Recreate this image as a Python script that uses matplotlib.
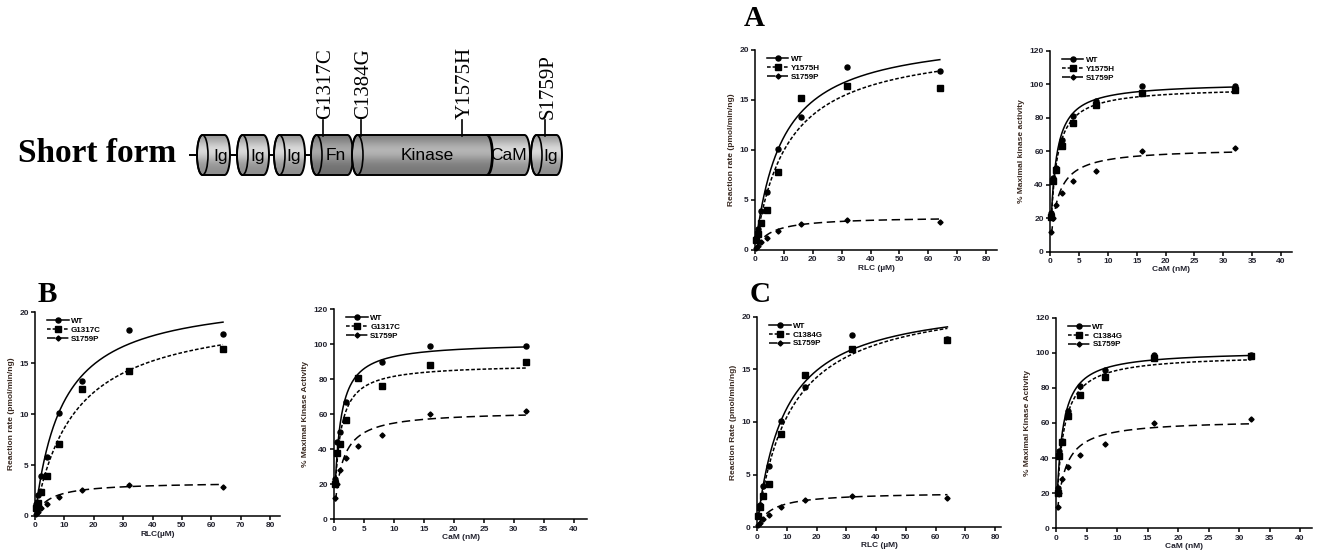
import numpy as np
import matplotlib.pyplot as plt
from matplotlib.lines import Line2D
from matplotlib.patches import Polygon, Ellipse

W, H = 1321, 559

# substrate concentrations
rlc = [0.5, 1, 2, 4, 8, 16, 32, 64]      # RLC (uM)
cam = [0.25, 0.5, 1, 2, 4, 8, 16, 32]    # CaM (nM)

# reaction rate (pmol/min/ng) vs RLC
wt_rlc = [1.2, 2.1, 3.9, 5.8, 10.1, 13.3, 18.3, 17.9]
y1575h_rlc = [1.0, 1.6, 2.7, 4.0, 7.8, 15.2, 16.4, 16.2]
g1317c_rlc = [0.8, 1.3, 2.4, 3.9, 7.1, 12.5, 14.2, 16.4]
c1384g_rlc = [1.1, 1.9, 3.0, 4.1, 8.9, 14.5, 16.9, 17.8]
s1759p_rlc = [0.2, 0.4, 0.8, 1.2, 1.9, 2.6, 3.0, 2.8]

# % maximal kinase activity vs CaM
wt_cam = [23, 44, 50, 67, 81, 90, 99, 99]
y1575h_cam = [21, 42, 49, 63, 77, 88, 95, 96.5]
g1317c_cam = [20, 38, 43, 57, 81, 76, 88, 90]
c1384g_cam = [20, 41, 49, 64, 76, 86, 97, 98]
s1759p_cam = [12, 20, 28, 35, 42, 48, 60, 62]

# hyperbolic fits: (Vmax, Km)
wt_rlc_fit = (21.8, 9.3)
y1575h_rlc_fit = (21.0, 11.1)
g1317c_rlc_fit = (20.4, 13.6)
c1384g_rlc_fit = (22.2, 11.2)
s1759p_rlc_fit = (3.34, 5.0)
wt_cam_fit = (101.2, 0.88)
y1575h_cam_fit = (98.4, 0.95)
g1317c_cam_fit = (88.8, 0.87)
c1384g_cam_fit = (99.0, 1.0)
s1759p_cam_fit = (61.9, 1.26)

# domain diagram
domains = ['Ig', 'Ig', 'Ig', 'Fn', 'CaM', 'Kinase', 'Ig']
mutations = ['G1317C', 'C1384G', 'Y1575H', 'S1759P']

SANS = 'Liberation Sans'
SERIF = 'Liberation Serif'
INK = '#22222e'

fig = plt.figure(figsize=(W / 100, H / 100), dpi=100)

# background axes in pixel units for the diagram and panel letters
bg = fig.add_axes([0, 0, 1, 1])
bg.set_xlim(0, W)
bg.set_ylim(H, 0)
bg.axis('off')


def cylinder(x0, x1, color, z, cap=5.5, top=135, bot=175):
    yc = (top + bot) / 2
    ry = (bot - top) / 2
    t = np.linspace(-np.pi / 2, np.pi / 2, 60)
    right = np.column_stack([x1 - cap + cap * np.cos(t), yc + ry * np.sin(t)])
    left = np.column_stack([x0 + cap - cap * np.cos(t[::-1]), yc + ry * np.sin(t[::-1])])
    pts = np.vstack([right, left])
    bg.add_patch(Polygon(pts, closed=True, facecolor='none', edgecolor='black',
                         lw=1.4, zorder=z + 1))
    # shaded body
    base = np.array(color)
    prof = np.linspace(0, 1, 50)
    shade = 0.78 + 0.4 * np.exp(-((prof - 0.38) / 0.28) ** 2)
    img = np.clip(base[None, :] * shade[:, None], 0, 1)[:, None, :]
    im = bg.imshow(img, extent=(x0, x1, bot, top), aspect='auto', zorder=z,
                   interpolation='bilinear')
    im.set_clip_path(Polygon(pts, closed=True, transform=bg.transData))
    # front face of the left end
    bg.add_patch(Ellipse((x0 + cap, yc), 2 * cap, bot - top, facecolor='none',
                         edgecolor='black', lw=1.2, zorder=z + 1))


bg.text(18, 153, 'Short form', family=SERIF, fontweight='bold', fontsize=24,
        ha='left', va='center')
bg.plot([190, 532], [155, 155], color='black', lw=1.4, zorder=1)

dom_x = [(197, 230), (237, 269), (274, 305), (311, 353), (482, 530), (352, 492), (531, 562)]
dom_col = [(0.72, 0.72, 0.72), (0.72, 0.72, 0.72), (0.72, 0.72, 0.72), (0.56, 0.56, 0.56),
           (0.72, 0.72, 0.72), (0.6, 0.6, 0.6), (0.72, 0.72, 0.72)]
dom_lab_x = [221, 258, 294, 336, 508, 427, 551]
for i, name in enumerate(domains):
    x0, x1 = dom_x[i]
    cylinder(x0, x1, dom_col[i], z=2 + 3 * i)
    bg.text(dom_lab_x[i], 156, name, ha='center', va='center', family=SANS,
            fontsize=12.5, zorder=40)

mut_x = [323, 361, 462, 545]
for name, x in zip(mutations, mut_x):
    bg.plot([x, x], [120, 136], color='black', lw=1.2, zorder=30)
    bg.text(x + 3, 119, name, rotation=90, ha='center', va='bottom', family=SERIF,
            fontsize=15, zorder=30)

for letter, x, y in [('A', 754, 18), ('B', 47, 294), ('C', 760, 295)]:
    bg.text(x, y, letter, family=SERIF, fontweight='bold', fontsize=21,
            ha='center', va='center')


def px_axes(x0, x1, ytop, ybot):
    return fig.add_axes([x0 / W, 1 - ybot / H, (x1 - x0) / W, (ybot - ytop) / H])


def style(ax, xmax, ymax, xticks, yticks):
    ax.set_xlim(0, xmax)
    ax.set_ylim(0, ymax)
    ax.set_xticks(xticks)
    ax.set_yticks(yticks)
    for s in ('top', 'right'):
        ax.spines[s].set_visible(False)
    for s in ('left', 'bottom'):
        ax.spines[s].set_linewidth(1.1)
    ax.tick_params(direction='out', length=3, width=1.1, pad=1.5, labelsize=6,
                   labelcolor=INK)
    for lab in ax.get_xticklabels() + ax.get_yticklabels():
        lab.set_family(SANS)
        lab.set_fontweight('bold')
    ax.patch.set_alpha(0)


def series(ax, x, y, fit, marker, ms, dashes):
    xs = np.linspace(min(x), max(x), 400)
    v, k = fit
    line, = ax.plot(xs, v * xs / (k + xs), color='black', lw=1.1)
    if dashes:
        line.set_dashes(dashes)
    ax.plot(x, y, ls='none', marker=marker, ms=ms, color='black', clip_on=False)
    h = Line2D([], [], color='black', lw=1.1, marker=marker, ms=ms)
    if dashes:
        h.set_dashes(dashes)
    return h


def panel(ax, x, wt, mut, s17, fits, mut_name, xlabel, ylabel, xmax, ymax, xticks, yticks):
    hs = [series(ax, x, wt, fits[0], 'o', 3.6, None),
          series(ax, x, mut, fits[1], 's', 3.9, (2.4, 1.3)),
          series(ax, x, s17, fits[2], 'D', 2.6, (5.5, 3.0))]
    style(ax, xmax, ymax, xticks, yticks)
    ax.set_xlabel(xlabel, family=SANS, fontweight='bold', fontsize=6, color=INK, labelpad=1)
    ax.set_ylabel(ylabel, family=SANS, fontweight='bold', fontsize=6, color='#3a2a22',
                  labelpad=3)
    ax.legend(hs, ['WT', mut_name, 'S1759P'], loc='upper left', bbox_to_anchor=(0.035, 0.99),
              frameon=False, borderaxespad=0, numpoints=1, handlelength=2.7,
              handletextpad=0.3, labelspacing=0.15,
              prop={'family': SANS, 'weight': 'bold', 'size': 5.8})


rlc_ticks = [0, 10, 20, 30, 40, 50, 60, 70, 80]
rlc_yt = [0, 5, 10, 15, 20]
cam_ticks = [0, 5, 10, 15, 20, 25, 30, 35, 40]
cam_yt = [0, 20, 40, 60, 80, 100, 120]

# panel A
ax = px_axes(755, 997, 50, 250)
panel(ax, rlc, wt_rlc, y1575h_rlc, s1759p_rlc, (wt_rlc_fit, y1575h_rlc_fit, s1759p_rlc_fit),
      'Y1575H', 'RLC (\u00b5M)', 'Reaction rate (pmol/min/ng)', 83.8, 20, rlc_ticks, rlc_yt)
ax = px_axes(1050, 1292, 51, 251.7)
panel(ax, cam, wt_cam, y1575h_cam, s1759p_cam, (wt_cam_fit, y1575h_cam_fit, s1759p_cam_fit),
      'Y1575H', 'CaM (nM)', '% Maximal kinase activity', 41.9, 120, cam_ticks, cam_yt)

# panel B
ax = px_axes(35, 280, 312.3, 516)
panel(ax, rlc, wt_rlc, g1317c_rlc, s1759p_rlc, (wt_rlc_fit, g1317c_rlc_fit, s1759p_rlc_fit),
      'G1317C', 'RLC(\u00b5M)', 'Reaction rate (pmol/min/ng)', 83.4, 20, rlc_ticks, rlc_yt)
ax = px_axes(334, 587, 309.3, 519.3)
panel(ax, cam, wt_cam, g1317c_cam, s1759p_cam, (wt_cam_fit, g1317c_cam_fit, s1759p_cam_fit),
      'G1317C', 'CaM (nM)', '% Maximal Kinase Activity', 42.2, 120, cam_ticks, cam_yt)

# panel C
ax = px_axes(757, 1001, 316.7, 527.3)
panel(ax, rlc, wt_rlc, c1384g_rlc, s1759p_rlc, (wt_rlc_fit, c1384g_rlc_fit, s1759p_rlc_fit),
      'C1384G', 'RLC (\u00b5M)', 'Reaction Rate (pmol/min/ng)', 82.0, 20, rlc_ticks, rlc_yt)
ax = px_axes(1056, 1311.7, 317.7, 528.3)
panel(ax, cam, wt_cam, c1384g_cam, s1759p_cam, (wt_cam_fit, c1384g_cam_fit, s1759p_cam_fit),
      'C1384G', 'CaM (nM)', '% Maximal Kinase Activity', 41.9, 120, cam_ticks, cam_yt)

fig.savefig('out.png', dpi=100)
